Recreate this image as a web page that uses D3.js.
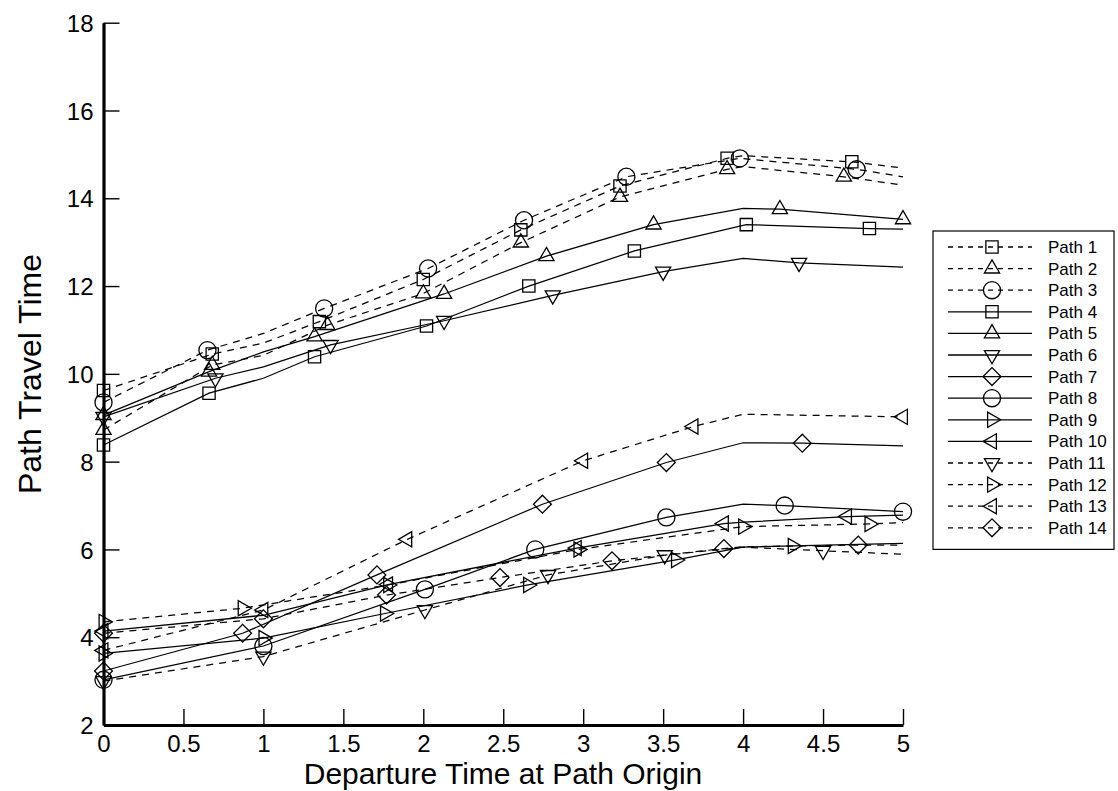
<!DOCTYPE html>
<html>
<head>
<meta charset="utf-8">
<script src="https://cdn.jsdelivr.net/npm/d3@7"></script>
<style>
  body { margin: 0; background: #fff; }
  svg { display: block; }
  text { font-family: "Liberation Sans", Arial, Helvetica, sans-serif; fill: #000; }
</style>
</head>
<body>
<svg id="chart" width="1118" height="791"></svg>
<script>
// Axis ticks
const departureTicks = [0, 0.5, 1, 1.5, 2, 2.5, 3, 3.5, 4, 4.5, 5];
const travelTicks = [2, 4, 6, 8, 10, 12, 14, 16, 18];

// Series descriptions
const pathNames = ["Path 1", "Path 2", "Path 3", "Path 4", "Path 5", "Path 6", "Path 7",
                   "Path 8", "Path 9", "Path 10", "Path 11", "Path 12", "Path 13", "Path 14"];
const pathDashed = [true, true, true, false, false, false, false,
                    false, false, false, true, true, true, true];
const pathSymbols = ["square", "up", "circle", "square", "up", "down", "diamond",
                     "circle", "right", "left", "down", "right", "left", "diamond"];

// Each vertex: [departure time, travel time, symbol drawn (1) or plain vertex (0)]
const path1 = [[0, 9.62, 1], [0.68, 10.45, 1], [1, 10.7, 0], [1.35, 11.19, 1], [2.0, 12.15, 1],
               [2.61, 13.28, 1], [3.23, 14.28, 1], [3.9, 14.91, 1], [4, 14.97, 0], [4.68, 14.83, 1], [5, 14.69, 0]];
const path2 = [[0, 8.72, 1], [0.68, 10.2, 1], [1, 10.42, 0], [1.4, 11.11, 1], [2.0, 11.83, 1],
               [2.61, 12.99, 1], [3.23, 14.03, 1], [3.9, 14.66, 1], [4, 14.72, 0], [4.63, 14.49, 1], [5, 14.3, 0]];
const path3 = [[0, 9.35, 1], [0.65, 10.54, 1], [1, 10.92, 0], [1.38, 11.49, 1], [2.03, 12.4, 1],
               [2.63, 13.5, 1], [3.27, 14.49, 1], [3.98, 14.91, 1], [4.71, 14.66, 1], [5, 14.49, 0]];
const path4 = [[0, 8.38, 1], [0.66, 9.56, 1], [1, 9.9, 0], [1.32, 10.39, 1], [2.02, 11.09, 1],
               [2.66, 12.0, 1], [3.32, 12.8, 1], [4.02, 13.4, 1], [4.79, 13.31, 1], [5, 13.3, 0]];
const path5 = [[0, 9.06, 1], [0.66, 10.05, 1], [1, 10.5, 0], [1.32, 10.85, 1], [2.13, 11.82, 1],
               [2.77, 12.68, 1], [3.44, 13.4, 1], [4, 13.77, 0], [4.23, 13.75, 1], [5, 13.52, 1]];
const path6 = [[0, 9.02, 1], [0.7, 9.9, 1], [1, 10.16, 0], [1.42, 10.66, 1], [2.13, 11.21, 1],
               [2.81, 11.79, 1], [3.5, 12.33, 1], [4, 12.63, 0], [4.35, 12.53, 1], [5, 12.43, 0]];
const path7 = [[0, 3.23, 1], [0.87, 4.09, 1], [1.71, 5.42, 1], [2.745, 7.03, 1], [3.52, 7.98, 1],
               [4, 8.43, 0], [4.37, 8.42, 1], [5, 8.36, 0]];
const path8 = [[0, 3.03, 1], [1.0, 3.8, 1], [2.01, 5.09, 1], [2.7, 6.0, 1], [3.52, 6.73, 1],
               [4, 7.03, 0], [4.26, 7.0, 1], [5, 6.86, 1]];
const path9 = [[0, 3.63, 1], [1.0, 3.98, 1], [1.76, 4.54, 1], [2.655, 5.19, 1], [3.58, 5.76, 1],
               [4, 6.05, 0], [4.31, 6.08, 1], [5, 6.14, 0]];
const path10 = [[0, 4.14, 1], [1, 4.5, 0], [1.78, 5.2, 1], [2.96, 6.03, 1], [3.88, 6.59, 1],
                [4, 6.62, 0], [4.65, 6.75, 1], [5, 6.78, 0]];
const path11 = [[0, 3.0, 1], [1.0, 3.56, 1], [2.01, 4.62, 1], [2.78, 5.42, 1], [3.51, 5.87, 1],
                [4, 6.05, 0], [4.5, 5.97, 1], [5, 5.89, 0]];
const path12 = [[0, 4.35, 1], [0.87, 4.66, 1], [1.78, 5.19, 1], [2.97, 6.0, 1], [4.0, 6.52, 1],
                [4.79, 6.58, 1], [5, 6.61, 0]];
const path13 = [[0, 3.7, 1], [1.0, 4.62, 1], [1.9, 6.23, 1], [3.0, 8.02, 1], [3.69, 8.8, 1],
                [4, 9.08, 0], [5, 9.02, 1]];
const path14 = [[0, 4.09, 1], [1.0, 4.42, 1], [1.77, 4.96, 1], [2.48, 5.36, 1], [3.18, 5.74, 1],
                [3.88, 6.02, 1], [4, 6.06, 0], [4.72, 6.1, 1], [5, 6.1, 0]];

const pathData = [path1, path2, path3, path4, path5, path6, path7,
                  path8, path9, path10, path11, path12, path13, path14];

const series = pathNames.map((name, i) => ({
  name, dashed: pathDashed[i], symbol: pathSymbols[i], points: pathData[i]
}));

// Layout
const svg = d3.select("#chart");
const x = d3.scaleLinear().domain([0, 5]).range([103.5, 903]);
const y = d3.scaleLinear().domain([2, 18]).range([725, 22.7]);

const DASH = "7,6";

// Marker shapes, drawn as outlines
function symbolPath(kind) {
  const tri = d3.symbol().type(d3.symbolTriangle).size(100)();
  switch (kind) {
    case "square":  return { d: d3.symbol().type(d3.symbolSquare).size(150)(), rot: 0 };
    case "circle":  return { d: d3.symbol().type(d3.symbolCircle).size(230)(), rot: 0 };
    case "diamond": return { d: d3.symbol().type(d3.symbolSquare).size(160)(), rot: 45 };
    case "up":      return { d: tri, rot: 0 };
    case "down":    return { d: tri, rot: 180 };
    case "right":   return { d: tri, rot: 90 };
    case "left":    return { d: tri, rot: -90 };
  }
}

function drawSymbol(g, kind, cx, cy) {
  const s = symbolPath(kind);
  g.append("path")
    .attr("d", s.d)
    .attr("transform", `translate(${cx},${cy}) rotate(${s.rot})`)
    .attr("fill", "none")
    .attr("stroke", "#000")
    .attr("stroke-width", 1.3);
}

// Axes
const yAxis = d3.axisLeft(y).tickValues(travelTicks).tickFormat(d3.format("d"))
  .tickSizeInner(-16).tickSizeOuter(0).tickPadding(10);
const xAxis = d3.axisBottom(x).tickValues(departureTicks).tickFormat(d => String(d))
  .tickSizeInner(-16).tickSizeOuter(0).tickPadding(9);

const gy = svg.append("g").attr("transform", `translate(${x(0)},0)`).call(yAxis);
const gx = svg.append("g").attr("transform", `translate(0,${y(2)})`).call(xAxis);

[gy, gx].forEach(g => {
  g.select(".domain").attr("stroke", "#000").attr("stroke-width", 3.2);
  g.selectAll(".tick line").attr("stroke", "#000").attr("stroke-width", 1.4);
  g.selectAll(".tick text").attr("font-size", 24).attr("fill", "#000")
    .style("font-family", '"Liberation Sans", Arial, sans-serif');
});
gy.selectAll(".tick text").attr("dy", "0.36em");
gx.selectAll(".tick text").attr("dy", "0.74em");

// Axis titles
svg.append("text")
  .attr("x", 503).attr("y", 784)
  .attr("text-anchor", "middle")
  .attr("font-size", 30)
  .text("Departure Time at Path Origin");

svg.append("text")
  .attr("transform", "translate(41,374) rotate(-90)")
  .attr("text-anchor", "middle")
  .attr("font-size", 32)
  .text("Path Travel Time");

// Lines and symbols
const line = d3.line().x(d => x(d[0])).y(d => y(d[1]));
const plot = svg.append("g");

series.forEach(s => {
  plot.append("path")
    .attr("d", line(s.points))
    .attr("fill", "none")
    .attr("stroke", "#000")
    .attr("stroke-width", 1.25)
    .attr("stroke-dasharray", s.dashed ? DASH : null);
});
series.forEach(s => {
  s.points.filter(p => p[2] === 1).forEach(p => drawSymbol(plot, s.symbol, x(p[0]), y(p[1])));
});

// Legend
const legX = 933, legY = 231, legW = 181, rowH = 21.6;
const leg = svg.append("g");
leg.append("rect")
  .attr("x", legX).attr("y", legY)
  .attr("width", legW).attr("height", 16 + rowH * series.length)
  .attr("fill", "#fff").attr("stroke", "#000").attr("stroke-width", 1.2);

series.forEach((s, i) => {
  const cy = legY + 16 + rowH * i;
  leg.append("line")
    .attr("x1", legX + 15).attr("x2", legX + 99)
    .attr("y1", cy).attr("y2", cy)
    .attr("stroke", "#000").attr("stroke-width", 1.3)
    .attr("stroke-dasharray", s.dashed ? "5,5" : null);
  drawSymbol(leg, s.symbol, legX + 59, cy);
  leg.append("text")
    .attr("x", legX + 115).attr("y", cy + 6)
    .attr("font-size", 17)
    .text(s.name);
});
</script>
</body>
</html>
